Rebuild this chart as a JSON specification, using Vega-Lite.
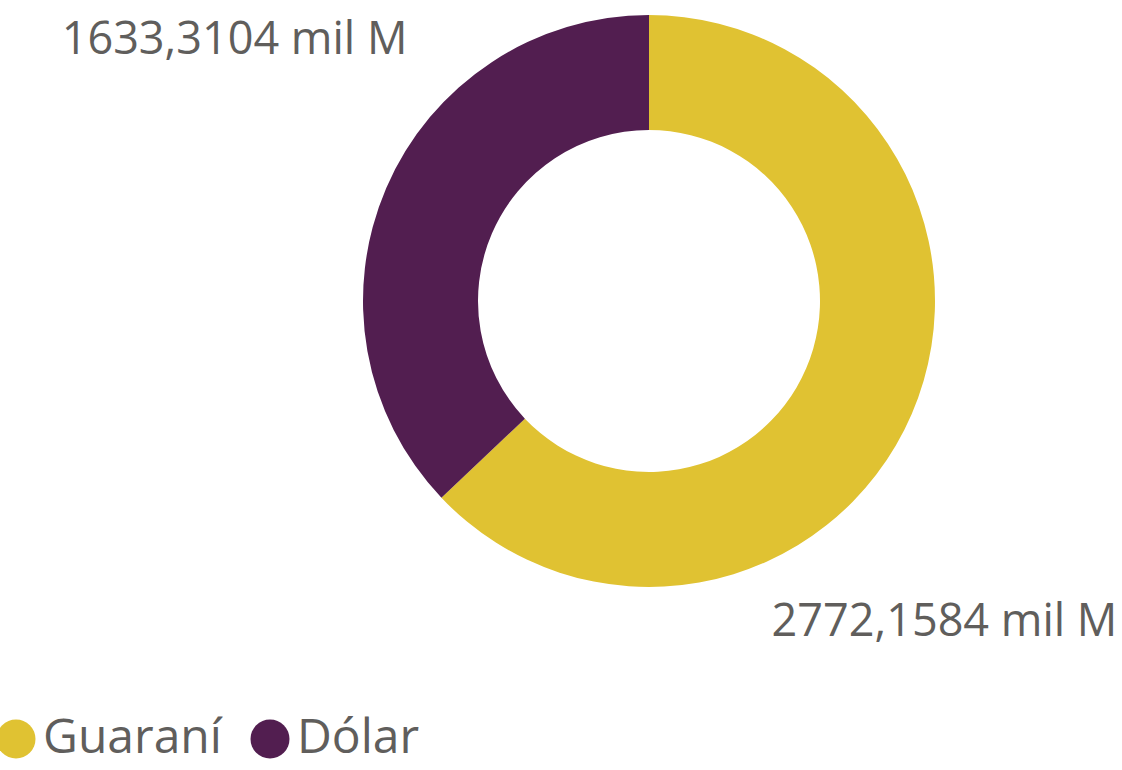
{
  "$schema": "https://vega.github.io/schema/vega-lite/v6.json",
  "autosize": "none",
  "width": 572,
  "height": 572,
  "padding": {"left": 363, "top": 15, "right": 187, "bottom": 183},
  "background": "white",
  "config": {"view": {"stroke": null}, "font": "Open Sans"},
  "data": {"values": [
    {"moneda": "Guaraní", "valor": 2772.1584, "label": "2772,1584 mil M"},
    {"moneda": "Dólar", "valor": 1633.3104, "label": "1633,3104 mil M"}
  ]},
  "encoding": {
    "theta": {"field": "valor", "type": "quantitative", "stack": true},
    "order": {"field": "valor", "type": "quantitative", "sort": "descending"}
  },
  "layer": [
    {
      "mark": {"type": "arc", "innerRadius": 171, "outerRadius": 286},
      "encoding": {
        "color": {
          "field": "moneda", "type": "nominal",
          "scale": {"domain": ["Guaraní", "Dólar"], "range": ["#E0C232", "#521E50"]},
          "legend": {
            "orient": "none", "legendX": -371, "legendY": 700, "direction": "horizontal",
            "title": null, "symbolType": "circle", "symbolSize": 1521, "symbolStrokeWidth": 0,
            "labelFontSize": 48, "labelColor": "#605E5C", "labelFont": "Open Sans",
            "labelOffset": 3, "columnPadding": 24, "padding": 0, "labelLimit": 400
          }
        }
      }
    },
    {
      "mark": {"type": "text", "radius": 300, "dx": 34, "dy": -129, "align": "right", "baseline": "alphabetic", "fontSize": 45},
      "encoding": {
        "detail": {"field": "moneda"},
        "color": {"value": "#605E5C"},
        "text": {"condition": {"test": "datum.moneda === 'Dólar'", "field": "label"}, "value": ""}
      }
    },
    {
      "mark": {"type": "text", "radius": 300, "dx": -153, "dy": 217, "align": "left", "baseline": "alphabetic", "fontSize": 45},
      "encoding": {
        "detail": {"field": "moneda"},
        "color": {"value": "#605E5C"},
        "text": {"condition": {"test": "datum.moneda === 'Guaraní'", "field": "label"}, "value": ""}
      }
    }
  ]
}
